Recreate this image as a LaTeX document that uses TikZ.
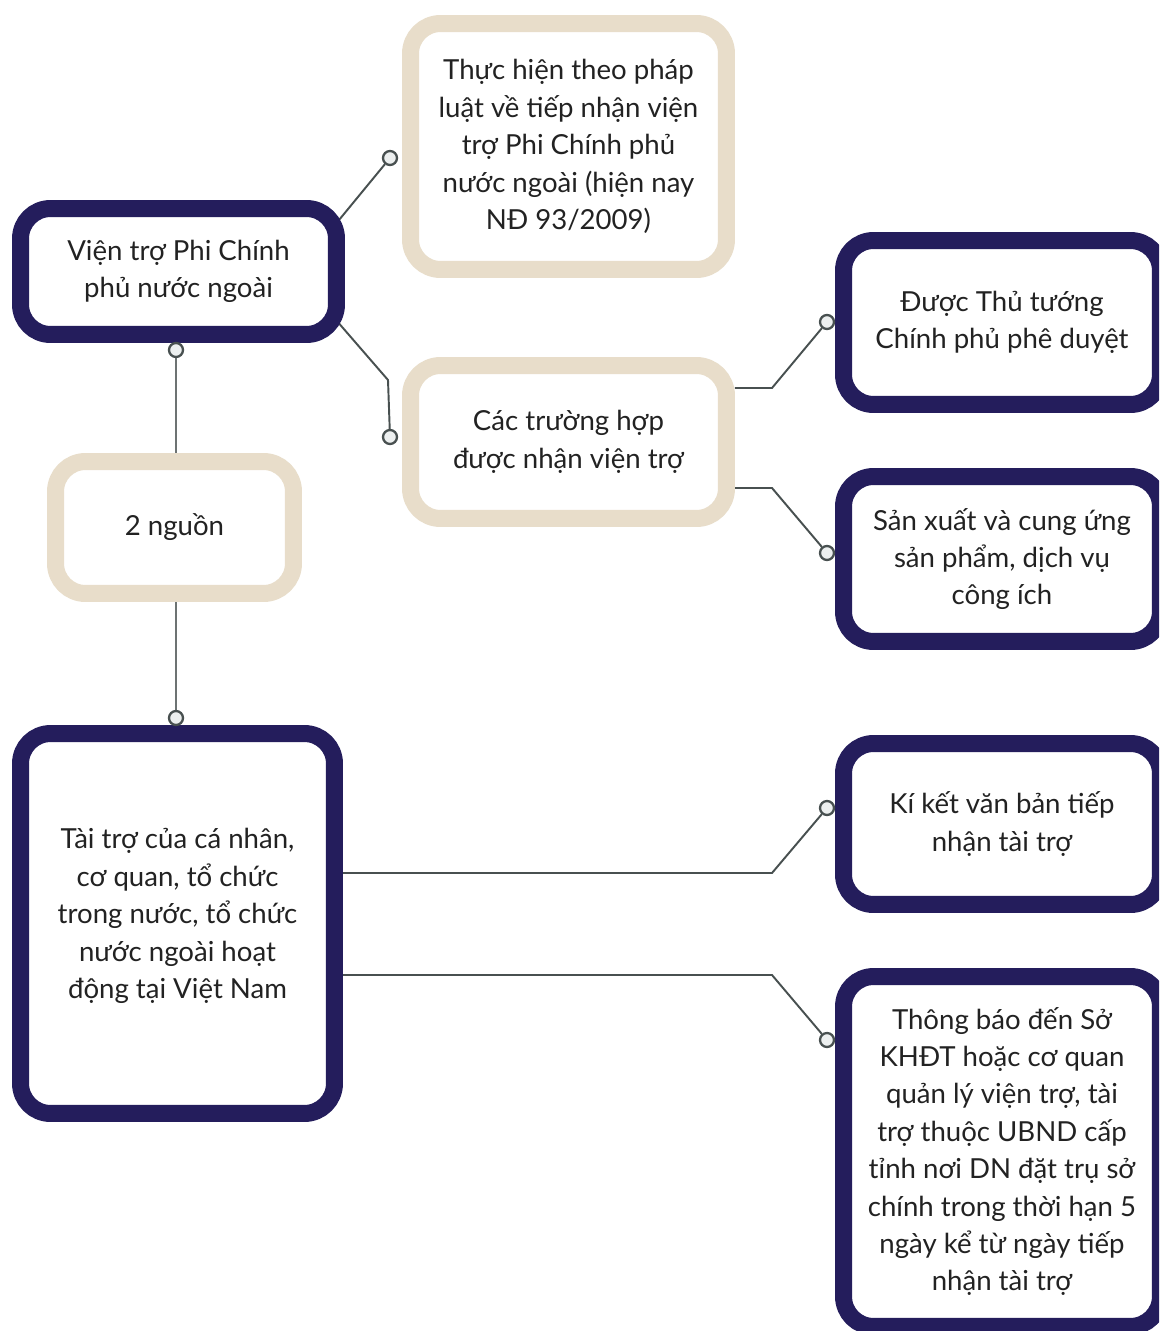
\documentclass[tikz,border=0pt]{standalone}
\usepackage{fontspec}
\setmainfont{Lato}
\definecolor{navy}{RGB}{36,29,92}
\definecolor{sand}{RGB}{232,221,202}
\definecolor{wire}{RGB}{72,80,80}
\definecolor{knobfill}{RGB}{236,239,239}
\definecolor{ink}{RGB}{34,34,34}
\pgfdeclarelayer{bg}
\pgfsetlayers{bg,main}

\begin{document}
\begin{tikzpicture}[x=0.02cm,y=-0.02cm,
    box/.style={rectangle,rounded corners=0.6cm,fill=white,line width=0.34cm,
      align=center,text=ink,inner sep=0pt,font=\fontsize{15.7}{21.3}\selectfont}]

      \useasboundingbox (0,0) rectangle (1159,1331);
      \clip (0,0) rectangle (1159,1331);

      \begin{scope}[every node/.style={box,draw=sand}]
        \node[minimum width=6.32cm,minimum height=4.92cm] (ph) at (568.5,146.5)
          {Thực hiện theo pháp\\luật về tiếp nhận viện\\trợ Phi Chính phủ\\nước ngoài (hiện nay\\NĐ 93/2009)};
        \node[minimum width=6.32cm,minimum height=3.06cm] (th) at (568.5,442)
          {Các trường hợp\\được nhận viện trợ};
        \node[minimum width=4.76cm,minimum height=2.64cm] (hn) at (174.5,527.5) {2 nguồn};
      \end{scope}

      \begin{scope}[every node/.style={box,draw=navy}]
        \node[minimum width=6.32cm,minimum height=2.52cm] (vt) at (178.5,271.5)
          {Viện trợ Phi Chính\\phủ nước ngoài};
        \node[minimum width=6.28cm,minimum height=7.6cm,text depth=0.4cm] (tt) at (177.5,923.5)
          {Tài trợ của cá nhân,\\cơ quan, tổ chức\\trong nước, tổ chức\\nước ngoài hoạt\\động tại Việt Nam};
        \node[minimum width=6.34cm,minimum height=3.28cm] (pd) at (1002,322.5)
          {Được Thủ tướng\\Chính phủ phê duyệt};
        \node[minimum width=6.34cm,minimum height=3.3cm] (sx) at (1002,559)
          {Sản xuất và cung ứng\\sản phẩm, dịch vụ\\công ích};
        \node[minimum width=6.34cm,minimum height=3.22cm] (kk) at (1002,824)
          {Kí kết văn bản tiếp\\nhận tài trợ};
        \node[minimum width=6.34cm,minimum height=7cm] (tb) at (1002,1151.5)
          {Thông báo đến Sở\\KHĐT hoặc cơ quan\\quản lý viện trợ, tài\\trợ thuộc UBND cấp\\tỉnh nơi DN đặt trụ sở\\chính trong thời hạn 5\\ngày kể từ ngày tiếp\\nhận tài trợ};
      \end{scope}

      \begin{scope}[every node/.style={circle,draw=wire,fill=knobfill,line width=1.3pt,
          minimum size=0.28cm,inner sep=0pt}]
        \node (k1) at (390,158) {};
        \node (k2) at (390,437) {};
        \node (k3) at (176,350) {};
        \node (k4) at (176,718) {};
        \node (k5) at (827,322) {};
        \node (k6) at (827,553) {};
        \node (k7) at (827,808) {};
        \node (k8) at (827,1040) {};
      \end{scope}

      \coordinate (b2) at (388,380);
      \coordinate (b5) at (772,388);
      \coordinate (b6) at (772,488);
      \coordinate (b7) at (772,873);
      \coordinate (b8) at (772,975);

      \begin{pgfonlayer}{bg}
        \fill[white] (0,0) rectangle (1159,1331);
        \begin{scope}[every path/.style={draw=wire,line width=1.1pt}]
          \path ([shift={(-15,31)}]vt.north east) -- (k1);
          \path ([shift={(-15,-30)}]vt.south east) -- (b2) -- (k2);
          \path (b5 -| th.east) -- (b5) -- (k5);
          \path (b6 -| th.east) -- (b6) -- (k6);
          \path (b7 -| tt.east) -- (b7) -- (k7);
          \path (b8 -| tt.east) -- (b8) -- (k8);
        \end{scope}
        \begin{scope}[every path/.style={draw=wire!80,line width=0.7pt}]
          \path (k3) -- (k3 |- hn.north);
          \path (k4 |- hn.south) -- (k4);
        \end{scope}
      \end{pgfonlayer}

    \end{tikzpicture}
\end{document}
